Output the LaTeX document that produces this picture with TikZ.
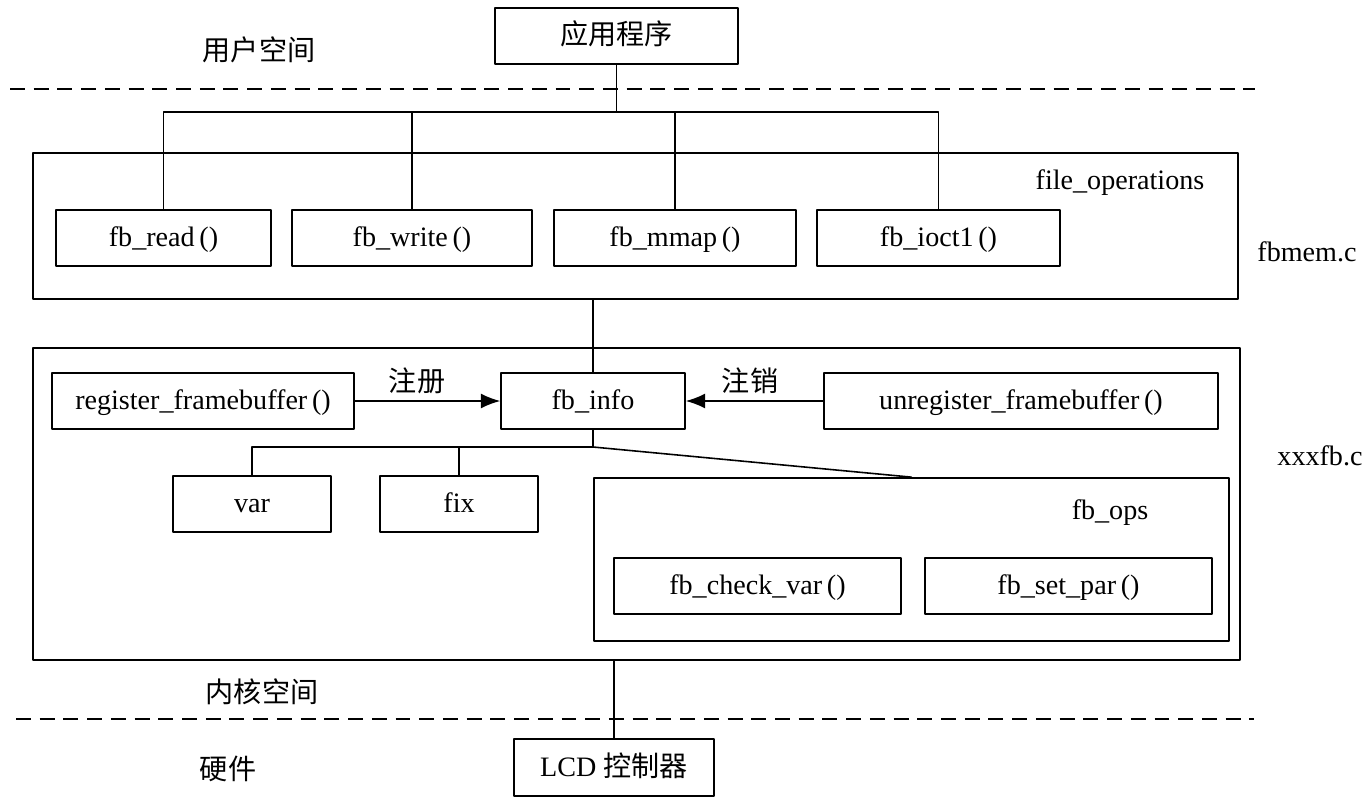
\documentclass[tikz,border=0pt]{standalone}
\usepackage{fontspec}
\setmainfont{Liberation Serif}
\newfontfamily\cjk{Noto Sans CJK SC}
\usetikzlibrary{arrows.meta}

\begin{document}
\begin{tikzpicture}[x=0.02cm, y=-0.02cm, >={Latex[length=11pt,width=8.5pt]}, font=\fontsize{16}{19}\selectfont, line join=round, line cap=round,
	box/.style={draw, line width=0.9pt, inner sep=0pt, minimum height=1.12cm, text height=12.5pt, text depth=2.5pt},
	frame/.style={draw, line width=1pt, inner sep=0pt},
	link/.style={line width=0.9pt},
	layer/.style={line width=1pt, line cap=butt, dash pattern=on 8.5pt off 5pt}]
	\useasboundingbox (0,0) rectangle (1366,805);
	
	% [Frames - Layer 1]
	\node[frame, minimum width=24.1cm, minimum height=2.92cm] (fbmem) at (635.5,226) {};
	\node[frame, minimum width=24.14cm, minimum height=6.24cm] (xxxfb) at (636.5,504) {};
	\node[frame, minimum width=12.7cm, minimum height=3.26cm] (ops) at (911.5,559.5) {};
	
	% [Boxes - Layer 2]
	\node[box, minimum width=4.86cm] (app) at (616.5,36) {\cjk 应用程序};
	\node[box, minimum width=4.3cm] (read) at (163.5,238) {fb\_read\,()};
	\node[box, minimum width=4.8cm] (write) at (412,238) {fb\_write\,()};
	\node[box, minimum width=4.84cm] (mmap) at (675,238) {fb\_mmap\,()};
	\node[box, minimum width=4.86cm] (ioctl) at (938.5,238) {fb\_ioct1\,()};
	\node[box, minimum width=6.04cm] (reg) at (203,401) {register\_framebuffer\,()};
	\node[box, minimum width=3.68cm] (info) at (593,401) {fb\_info};
	\node[box, minimum width=7.88cm] (unreg) at (1021,401) {unregister\_framebuffer\,()};
	\node[box, minimum width=3.16cm] (var) at (252,504) {var};
	\node[box, minimum width=3.16cm] (fix) at (459,504) {fix};
	\node[box, minimum width=5.74cm] (check) at (757.5,586) {fb\_check\_var\,()};
	\node[box, minimum width=5.74cm] (setpar) at (1068.5,586) {fb\_set\_par\,()};
	\node[box, minimum width=4cm, minimum height=1.14cm] (lcd) at (614,767.5) {LCD {\cjk 控制器}};
	
	% [Labels - Layer 3]
	\node (user) at (259,50) {\cjk 用户空间};
	\node (kernel) at (262,692) {\cjk 内核空间};
	\node (hw) at (228,769) {\cjk 硬件};
	\node (fileops) at (1120,183) {file\_operations};
	\node (fbmemc) at (1307,252) {fbmem.c};
	\node (xxxfbc) at (1320,456) {xxxfb.c};
	\node (opsname) at (1110,513) {fb\_ops};
	\node (regtxt) at (417,381) {\cjk 注册};
	\node (unregtxt) at (750,381) {\cjk 注销};
	
	% [Space borders - Layer 4]
	\draw[layer] (10,89) -- (1255,89);
	\draw[layer] (16,719) -- (1254,719);
	
	% [Connectors - Layer 5]
	\coordinate (bus) at (616.5,112);
	\coordinate (split) at (593,447);
	\draw[link] (app) -- (bus);
	\draw[link] (read.north) |- (bus) -| (ioctl.north);
	\draw[link] (write.north) -- (write.north |- bus);
	\draw[link] (mmap.north) -- (mmap.north |- bus);
	\draw[link] (fbmem.south -| info.north) -- (info.north);
	\draw[link,->] (reg) -- (info);
	\draw[link,->] (unreg) -- (info);
	\draw[link] (info) -- (split) -| (var.north);
	\draw[link] (fix.north) -- (fix.north |- split);
	\draw[link] (split) -- (ops.north);
	\draw[link] (xxxfb.south -| lcd.north) -- (lcd.north);
\end{tikzpicture}
\end{document}
